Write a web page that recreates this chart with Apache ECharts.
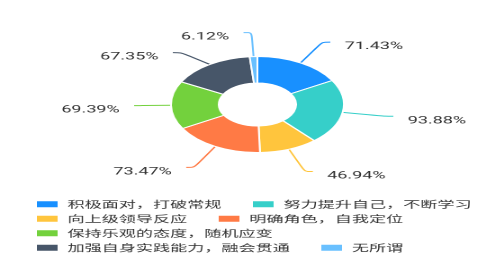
<!DOCTYPE html>
<html>
<head>
<meta charset="utf-8">
<script src="https://cdn.jsdelivr.net/npm/echarts@6/dist/echarts.min.js"></script>
<style>
html,body{margin:0;padding:0;background:#fff;overflow:hidden;width:492px;height:257px;}
#wrap{width:547px;height:514px;transform:scale(0.9,0.5);transform-origin:0 0;}
#chart{width:547px;height:514px;}
</style>
</head>
<body>
<div id="wrap"><div id="chart"></div></div>
<script>
const categories = ['积极面对，打破常规','努力提升自己，不断学习','向上级领导反应','明确角色，自我定位','保持乐观的态度，随机应变','加强自身实践能力，融会贯通','无所谓'];
const values = [71.43, 93.88, 46.94, 73.47, 69.39, 67.35, 6.12];
const colors = ['#1890ff','#36cfc9','#ffc53d','#ff7a45','#73d13d','#475669','#69c0ff'];

const chart = echarts.init(document.getElementById('chart'));
chart.setOption({
  animation: false,
  color: colors,
  legend: {
    left: 39, top: 399, width: 545,
    padding: 0,
    itemWidth: 25, itemHeight: 14, itemGap: 10,
    icon: 'rect',
    data: categories,
    textStyle: { fontSize: 19, lineHeight: 14, color: '#333', fontFamily: "'Noto Sans CJK SC', sans-serif", padding: [0, 23, 0, 5] }
  },
  series: [{
    type: 'pie',
    center: [286, 209],
    radius: [43, 96],
    startAngle: 90,
    itemStyle: { borderColor: '#fff', borderWidth: 2 },
    label: {
      show: true,
      formatter: p => '{v|' + p.value.toFixed(2) + '%}',
      color: '#333',
      distanceToLabelLine: 16,
      rich: {
        v: { fontSize: 20, lineHeight: 22, padding: [18, 0, 0, 0], color: '#333', fontFamily: 'Roboto, sans-serif' }
      }
    },
    labelLine: { show: true, length: 48, length2: 9, smooth: true, lineStyle: { width: 2 } },
    data: categories.map((c, i) => ({ name: c, value: values[i] }))
  }]
});
</script>
</body>
</html>
